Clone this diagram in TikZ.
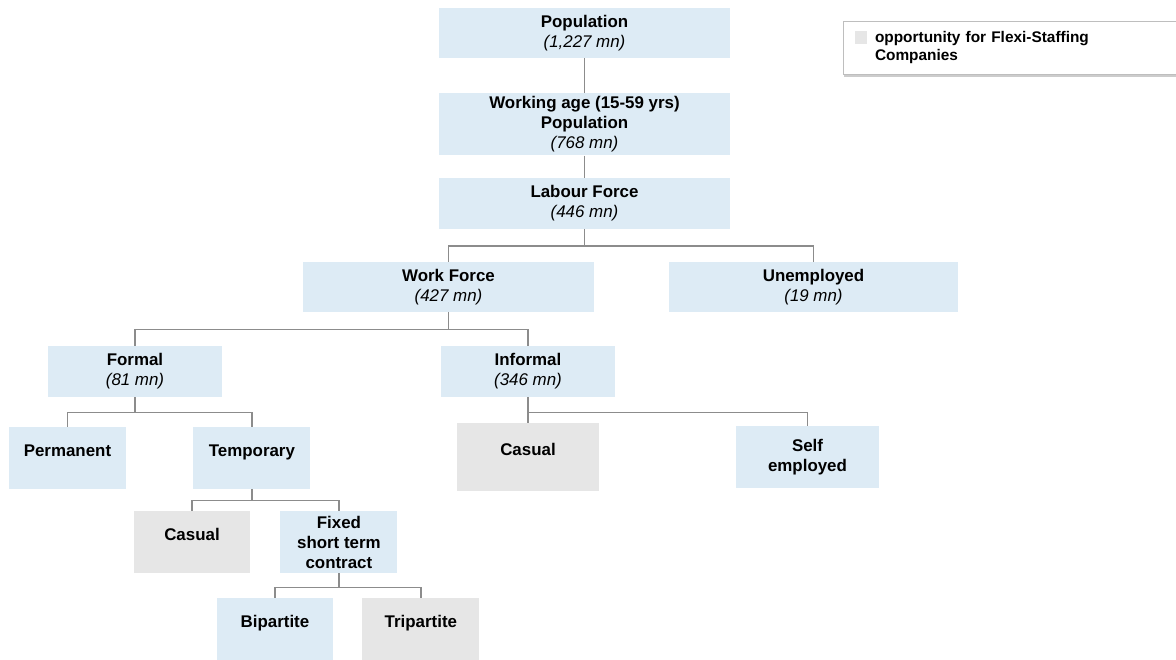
\documentclass[tikz,border=0pt]{standalone}
\usepackage{fontspec}
\setmainfont{Liberation Sans}
\usepackage{tikz}
\usetikzlibrary{positioning,shadows}

\definecolor{boxblue}{RGB}{221,235,245}
\definecolor{oppgray}{RGB}{230,230,230}
\definecolor{linegray}{RGB}{140,140,140}
\definecolor{legendline}{RGB}{190,190,190}

\newcommand{\millions}[1]{{\mdseries\itshape (#1 mn)}}

\begin{document}
\begin{tikzpicture}[x=1pt, y=-1pt,
    box/.style={rectangle, fill=boxblue, inner sep=0pt, align=center,
                font=\fontsize{16.9}{20}\selectfont\bfseries},
    opp/.style={box, fill=oppgray},
    oneline/.style={text height=12pt, text depth=16pt},
    link/.style={draw=linegray, line width=1.2pt}]
	\useasboundingbox (0,0) rectangle (1176,660);

	% top of the tree
	\node[box, minimum width=291pt, minimum height=50pt] (pop) at (584.5,33) {Population\\\millions{1,227}};
	\node[box, minimum width=291pt, minimum height=62pt, below=35pt of pop] (wage) {Working age (15-59 yrs)\\Population\\\millions{768}};
	\node[box, minimum width=291pt, minimum height=51pt, below=22pt of wage] (lab) {Labour Force\\\millions{446}};

	\node[box, minimum width=291pt, minimum height=50pt] (wf) at (448.5,287) {Work Force\\\millions{427}};
	\node[box, minimum width=289pt, minimum height=50pt] (unemp) at (813.5,287) {Unemployed\\\millions{19}};

	\node[box, minimum width=174pt, minimum height=51pt] (formal) at (135,371.5) {Formal\\\millions{81}};
	\node[box, minimum width=174pt, minimum height=51pt] (informal) at (528,371.5) {Informal\\\millions{346}};

	% bottom rows
	\node[box, oneline, minimum width=117pt, minimum height=62pt] (perm) at (67.5,458) {Permanent};
	\node[box, oneline, minimum width=117pt, minimum height=62pt, right=67pt of perm] (temp) {Temporary};
	\node[opp, oneline, minimum width=142pt, minimum height=68pt] (casuali) at (528,457) {Casual};
	\node[box, minimum width=143pt, minimum height=62pt] (self) at (807.5,457) {Self\\employed};

	\node[opp, oneline, minimum width=116pt, minimum height=62pt] (casualf) at (192,542) {Casual};
	\node[box, minimum width=117pt, minimum height=62pt, right=30pt of casualf] (fixed) {Fixed\\short term\\contract};

	\node[box, oneline, minimum width=116pt, minimum height=62pt] (bip) at (275,629) {Bipartite};
	\node[opp, oneline, minimum width=117pt, minimum height=62pt, right=29pt of bip] (trip) {Tripartite};

	% legend
	\node[draw=legendline, fill=white, drop shadow={shadow xshift=1pt, shadow yshift=-3pt, fill=black, opacity=0.2},
	      minimum width=333pt, minimum height=53pt, inner xsep=32pt, text width=269pt, align=left,
	      font=\fontsize{15.4}{18}\selectfont\bfseries] (legend) at (1009.5,47.5) {opportunity for Flexi-Staffing\\Companies};
	\node[fill=oppgray, minimum width=12pt, minimum height=13pt, inner sep=0pt] (legkey) at (861,37.5) {};

	% connectors
	\draw[link] (pop) -- (wage);
	\draw[link] (wage) -- (lab);

	\path (lab.south) ++(0,17) coordinate (labbar);
	\draw[link] (lab.south) -- (labbar);
	\draw[link] (wf.north) |- (labbar) -| (unemp.north);

	\path (wf.south) ++(0,17) coordinate (wfbar);
	\draw[link] (wf.south) -- (wfbar);
	\draw[link] (formal.north) |- (wfbar) -| (informal.north);

	\path (formal.south) ++(0,15) coordinate (formalbar);
	\draw[link] (formal.south) -- (formalbar);
	\draw[link] (perm.north) |- (formalbar) -| (temp.north);

	\path (informal.south) ++(0,15) coordinate (informalbar);
	\draw[link] (informal.south) -- (casuali.north);
	\draw[link] (informalbar) -| (self.north);

	\path (temp.south) ++(0,11) coordinate (tempbar);
	\draw[link] (temp.south) -- (tempbar);
	\draw[link] (casualf.north) |- (tempbar) -| (fixed.north);

	\path (fixed.south) ++(0,14) coordinate (fixedbar);
	\draw[link] (fixed.south) -- (fixedbar);
	\draw[link] (bip.north) |- (fixedbar) -| (trip.north);
\end{tikzpicture}
\end{document}
